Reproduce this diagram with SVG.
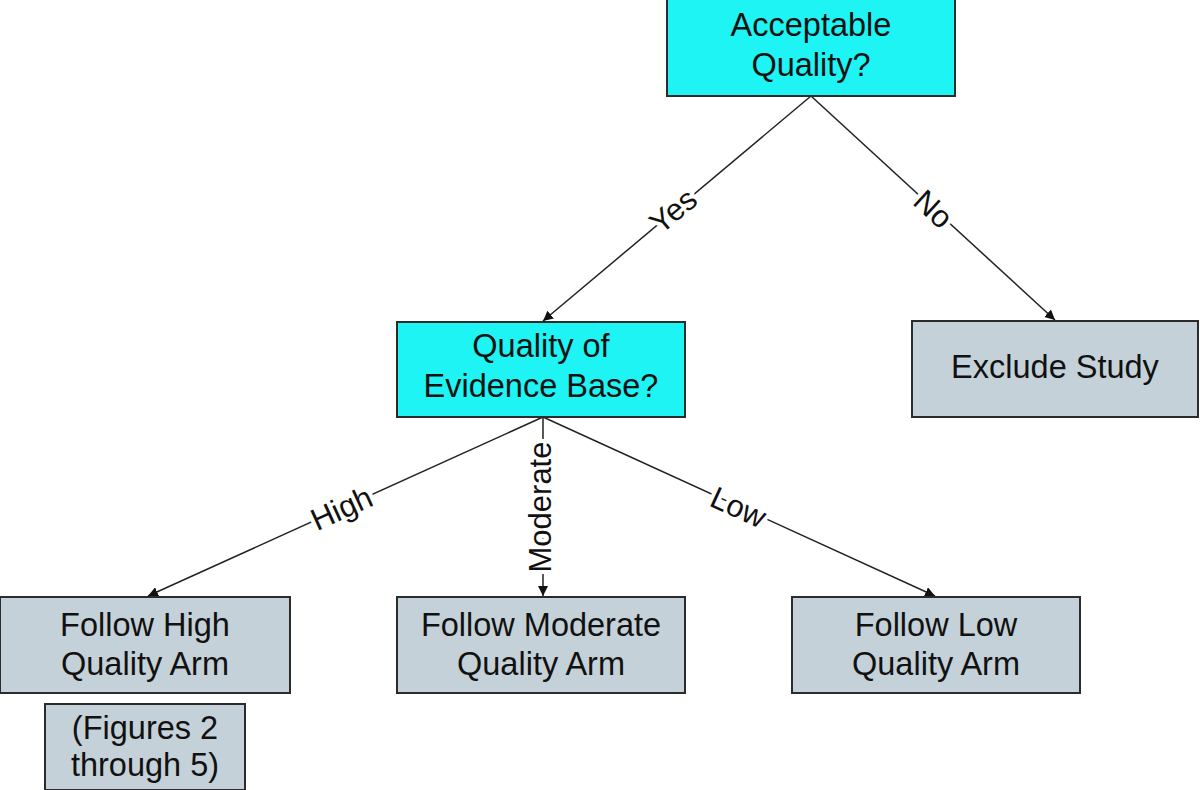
<svg xmlns="http://www.w3.org/2000/svg" width="1200" height="790" viewBox="0 0 1200 790">
<style>
.box{stroke:#2b2b2b;stroke-width:2}
.q{fill:#1ef4f4}
.g{fill:#c5d1d8}
.t{font-family:"Liberation Sans",Arial,sans-serif;font-size:32.5px;fill:#111;text-anchor:middle}
.lbl{font-family:"Liberation Sans",Arial,sans-serif;font-size:31px;fill:#111;text-anchor:middle;stroke:#fff;stroke-width:8;paint-order:stroke;stroke-linejoin:round}
.c{stroke:#222;stroke-width:1.5;fill:none;marker-end:url(#ah)}
</style>
<defs>
<marker id="ah" viewBox="0 0 10 10" refX="10" refY="5" markerWidth="10" markerHeight="10" markerUnits="userSpaceOnUse" orient="auto">
<path d="M0,0 L10,5 L0,10 z" fill="#111"/>
</marker>
</defs>
<rect width="1200" height="790" fill="#fff"/>
<g id="connectors">
<line class="c" x1="811" y1="96" x2="543" y2="321"/>
<line class="c" x1="811" y1="96" x2="1055" y2="320"/>
<line class="c" x1="543" y1="417" x2="148" y2="596"/>
<line class="c" x1="543" y1="417" x2="543" y2="596"/>
<line class="c" x1="543" y1="417" x2="935" y2="596"/>
<text class="lbl" transform="translate(680,219) rotate(-40)">Yes</text>
<text class="lbl" transform="translate(926,217) rotate(42.6)">No</text>
<text class="lbl" transform="translate(346,518) rotate(-24.5)">High</text>
<text class="lbl" transform="translate(734,517) rotate(24.5)">Low</text>
<text class="lbl" transform="translate(551,507) rotate(-90)">Moderate</text>
</g>
<g id="acceptable">
<rect class="box q" x="667" y="-1" width="288" height="97"/>
<text class="t" x="811" y="36">Acceptable</text>
<text class="t" x="811" y="76">Quality?</text>
</g>
<g id="evidence">
<rect class="box q" x="397" y="322" width="288" height="95"/>
<text class="t" x="541" y="357">Quality of</text>
<text class="t" x="541" y="397">Evidence Base?</text>
</g>
<g id="exclude">
<rect class="box g" x="912" y="321" width="286" height="96"/>
<text class="t" x="1055" y="378">Exclude Study</text>
</g>
<g id="high">
<rect class="box g" x="0" y="597" width="290" height="96"/>
<text class="t" x="145" y="636">Follow High</text>
<text class="t" x="145" y="675">Quality Arm</text>
</g>
<g id="figures">
<rect class="box g" x="45" y="704" width="200" height="86"/>
<text class="t" x="145" y="739">(Figures 2</text>
<text class="t" x="145" y="776">through 5)</text>
</g>
<g id="moderate">
<rect class="box g" x="397" y="597" width="288" height="96"/>
<text class="t" x="541" y="636">Follow Moderate</text>
<text class="t" x="541" y="675">Quality Arm</text>
</g>
<g id="low">
<rect class="box g" x="792" y="597" width="288" height="96"/>
<text class="t" x="936" y="636">Follow Low</text>
<text class="t" x="936" y="675">Quality Arm</text>
</g>
</svg>
